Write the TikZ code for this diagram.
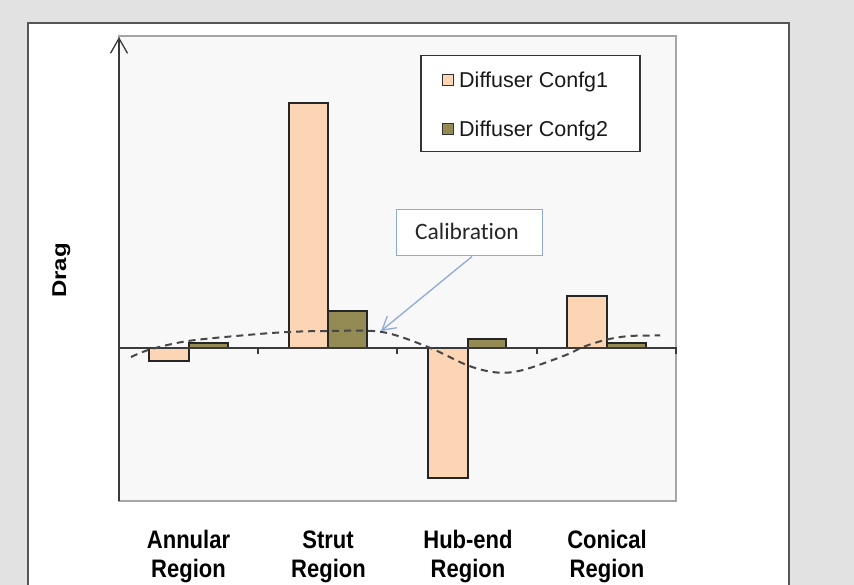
\documentclass[tikz,border=0pt]{standalone}
\usepackage{fontspec}
\setmainfont{Liberation Sans}
\newfontfamily\calfont[RawFeature=-liga]{Carlito}
\usetikzlibrary{arrows.meta}
\definecolor{bggray}{HTML}{E2E2E2}
\definecolor{panelline}{HTML}{555555}
\definecolor{plotfill}{HTML}{F8F8F8}
\definecolor{plotline}{HTML}{A6A6A6}
\definecolor{peach}{HTML}{FCD5B5}
\definecolor{olive}{HTML}{948A54}
\definecolor{axisline}{HTML}{3A3A3A}
\definecolor{calblue}{HTML}{8EAAD8}
\tikzset{
  barone/.style={fill=peach,draw=black!85,line width=1.1pt},
  bartwo/.style={fill=olive,draw=black!85,line width=1.1pt},
  axisstyle/.style={draw=axisline,line width=1.3pt},
  ticky/.style={draw=axisline,line width=1.3pt},
  curvestyle/.style={draw=black!72,line width=2pt,dash pattern=on 7pt off 5pt},
  legendbox/.style={draw=black!80,fill=white,line width=1.1pt,minimum width=219pt,minimum height=96pt,inner sep=0pt},
  legsq/.style={draw=black!80,line width=1pt,minimum width=11pt,minimum height=11pt,inner sep=0pt},
  legtext/.style={font=\fontsize{21.5}{24}\selectfont,inner sep=0pt,anchor=base west,text=black!90},
  calbox/.style={draw=calblue,fill=white,line width=1pt,minimum width=146pt,minimum height=46pt,inner sep=0pt},
  catlabel/.style={font=\fontsize{22}{25}\selectfont\bfseries,inner sep=0pt,anchor=base},
}
\newcommand\vstretch[1]{\scalebox{1}[1.15]{#1}}
\begin{document}
\begin{tikzpicture}[x=1pt,y=-1pt]
\useasboundingbox (0,0) rectangle (854,585);
\fill[bggray] (0,0) rectangle (854,585);
% white panel
\fill[white] (28,23) rectangle (789,585);
\draw[panelline,line width=2pt] (28,586) -- (28,23) -- (789,23) -- (789,586);
% plot area
\draw[plotline,fill=plotfill,line width=1.2pt] (119,36) rectangle (676,501);
% bars
\draw[barone] (149,348) rectangle (189,361);
\draw[bartwo] (189,343) rectangle (228,348);
\draw[barone] (289,103) rectangle (328,348);
\draw[bartwo] (328,311) rectangle (367,348);
\draw[barone] (428,348) rectangle (468,478);
\draw[bartwo] (468,339) rectangle (506,348);
\draw[barone] (567,296) rectangle (607,348);
\draw[bartwo] (607,343) rectangle (646,348);
% axes
\coordinate (ybot) at (119,501);
\coordinate (ytop) at (119,37);
\draw[axisstyle,-{Straight Barb[length=15pt,width=17pt,line width=1.3pt]}] (ybot) -- (ytop);
\coordinate (zl) at (119,348);
\coordinate (zr) at (677,348);
\draw[axisstyle] (zl) -- (zr);
\foreach \tx in {258,397,537,676} {\draw[ticky] (\tx,348) -- (\tx,354);}
% dashed curve
\draw[curvestyle] plot[smooth,tension=0.55] coordinates {(131,357) (150,349.5) (188,341) (247,335) (288,332) (330,331) (382,332) (428,347) (468,365.5) (497,372.5) (523,370) (566,355) (583,347) (607,339.5) (630,336) (660,335.5)};
% legend
\node[legendbox] (legend) at (530.5,103.5) {};
\node[legsq,fill=peach] (sq1) at (448,80) {};
\node[legtext] (lt1) at (459,88) {Diffuser Confg1};
\node[legsq,fill=olive] (sq2) at (448,129) {};
\node[legtext] (lt2) at (459,137) {Diffuser Confg2};
% calibration
\node[calbox] (cal) at (469,233) {};
\node[font=\calfont\fontsize{23.5}{26}\selectfont,anchor=base,inner sep=0pt,text=black!85] (caltext) at (467,239.5) {Calibration};
\coordinate (calpt) at (381,331);
\draw[calblue,line width=1.3pt,-{Straight Barb[length=13pt,width=15pt,line width=1.3pt]}] ([xshift=3pt]cal.south) -- (calpt);
% y label
\node[font=\fontsize{20}{22}\selectfont\bfseries,rotate=90,anchor=base,inner sep=0pt] (drag) at (66,270.5) {\scalebox{1.2}[1]{Drag}};
% category labels
\node[catlabel] (c1a) at (188.5,548) {\vstretch{Annular}};
\node[catlabel] (c1b) at (188.5,577) {\vstretch{Region}};
\node[catlabel] (c2a) at (328,548) {\vstretch{Strut}};
\node[catlabel] (c2b) at (328.5,577) {\vstretch{Region}};
\node[catlabel] (c3a) at (468,548) {\vstretch{Hub-end}};
\node[catlabel] (c3b) at (468,577) {\vstretch{Region}};
\node[catlabel] (c4a) at (607,548) {\vstretch{Conical}};
\node[catlabel] (c4b) at (607,577) {\vstretch{Region}};
\end{tikzpicture}
\end{document}
